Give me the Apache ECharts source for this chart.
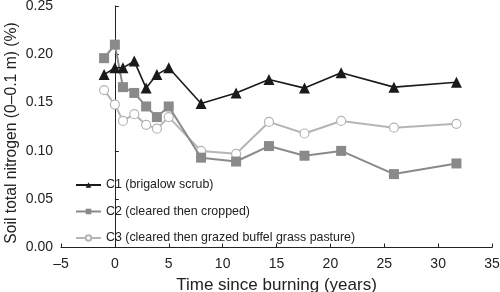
<!DOCTYPE html>
<html>
<head>
<meta charset="utf-8">
<script src="https://cdn.jsdelivr.net/npm/echarts@6/dist/echarts.min.js"></script>
<style>
  html, body { margin: 0; padding: 0; background: #fff; }
  #chart { width: 500px; height: 292px; }
</style>
</head>
<body>
<div id="chart"></div>
<script>
// years since burning (shared by all three sites)
var years = [-1, 0, 0.75, 1.8, 2.9, 3.9, 5, 8, 11.25, 14.3, 17.6, 21, 25.9, 31.7];
// soil total nitrogen (%)
var c1 = [0.179, 0.186, 0.186, 0.193, 0.165, 0.179, 0.186, 0.149, 0.160, 0.174, 0.165, 0.181, 0.166, 0.171];
var c2 = [0.196, 0.210, 0.166, 0.160, 0.146, 0.135, 0.146, 0.093, 0.089, 0.105, 0.095, 0.100, 0.076, 0.087];
var c3 = [0.163, 0.148, 0.131, 0.138, 0.127, 0.123, 0.135, 0.100, 0.097, 0.130, 0.118, 0.131, 0.124, 0.128];
var names = ['C1 (brigalow scrub)', 'C2 (cleared then cropped)', 'C3 (cleared then grazed buffel grass pasture)'];
var yTitle = 'Soil total nitrogen (0\u20130.1 m) (%)';

function pairs(vals) {
    return years.map(function (t, i) { return [t, vals[i]]; });
}

var font = 'Liberation Sans, Arial, sans-serif';
var myChart = echarts.init(document.getElementById('chart'));

myChart.setOption({
    animation: false,
    textStyle: { fontFamily: font },
    grid: { left: 61, right: 8, top: 6, bottom: 44.5, outerBoundsMode: 'none' },
    // y title placed by hand: it sits a little below the plot centre
    graphic: [{
        type: 'text',
        x: 12,
        y: 133,
        rotation: Math.PI / 2,
        style: {
            text: yTitle,
            fontSize: 15.7,
            fontFamily: font,
            fill: '#222',
            align: 'center',
            verticalAlign: 'middle'
        }
    }],
    legend: {
        orient: 'vertical',
        left: 70,
        top: 174,
        itemWidth: 25,
        itemHeight: 7,
        itemGap: 14.5,
        textStyle: { fontSize: 12.4, color: '#222', fontFamily: font },
        data: names
    },
    xAxis: {
        type: 'value',
        min: -5,
        max: 35,
        interval: 5,
        name: 'Time since burning (years)',
        nameLocation: 'middle',
        nameGap: 28,
        nameTextStyle: { fontSize: 17, color: '#222', fontFamily: font },
        axisLine: { lineStyle: { color: '#222', width: 1 } },
        axisTick: { inside: true, length: 4, lineStyle: { color: '#222' } },
        axisLabel: {
            fontSize: 14, color: '#222', margin: 10,
            formatter: function (v) { return String(v).replace('-', '\u2013'); }
        },
        splitLine: { show: false }
    },
    yAxis: {
        type: 'value',
        min: 0,
        max: 0.25,
        interval: 0.05,
        axisLine: { show: true, lineStyle: { color: '#222', width: 1 } },
        axisTick: { show: true, inside: true, length: 4, lineStyle: { color: '#222' } },
        axisLabel: {
            fontSize: 14, color: '#222', margin: 8,
            formatter: function (v) { return v.toFixed(2); }
        },
        splitLine: { show: false }
    },
    series: [
        {
            name: names[0],
            type: 'line',
            data: pairs(c1),
            symbol: 'triangle',
            symbolSize: 11,
            color: '#1a1a1a',
            lineStyle: { width: 1.6, color: '#1a1a1a' },
            itemStyle: { color: '#1a1a1a' },
            z: 4
        },
        {
            name: names[1],
            type: 'line',
            data: pairs(c2),
            symbol: 'rect',
            symbolSize: 10,
            color: '#8a8a8a',
            lineStyle: { width: 2, color: '#8a8a8a' },
            itemStyle: { color: '#8a8a8a' },
            z: 3
        },
        {
            name: names[2],
            type: 'line',
            data: pairs(c3),
            symbol: 'circle',
            symbolSize: 9,
            showAllSymbol: true,
            color: '#b5b5b5',
            lineStyle: { width: 2, color: '#b5b5b5' },
            itemStyle: { color: '#fff', borderColor: '#b5b5b5', borderWidth: 1.2 },
            z: 2
        }
    ]
});
</script>
</body>
</html>
